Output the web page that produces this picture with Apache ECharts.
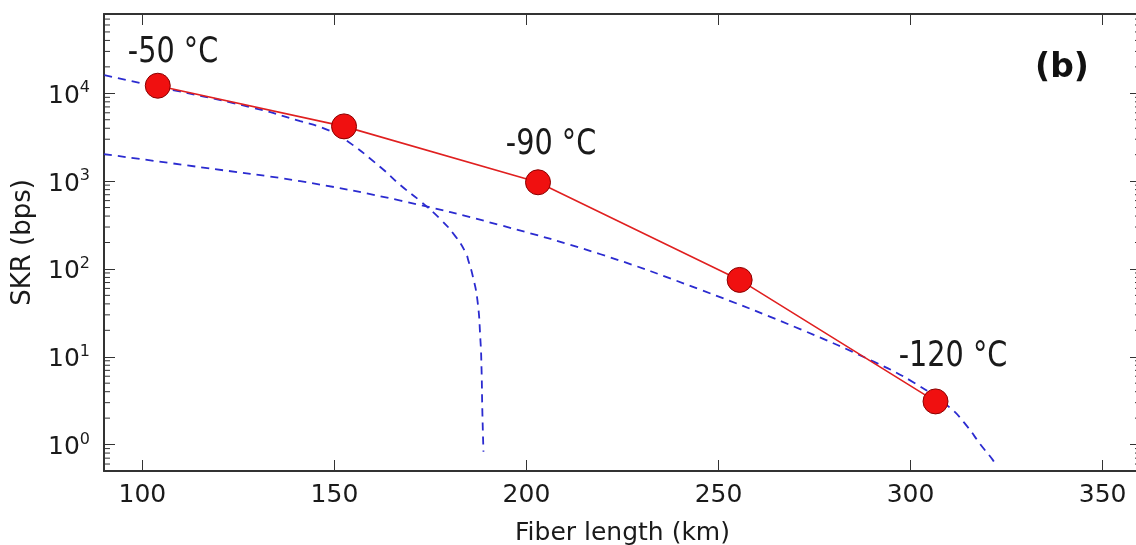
<!DOCTYPE html>
<html>
<head>
<meta charset="utf-8">
<title>SKR vs fiber length</title>
<script src="https://cdn.jsdelivr.net/npm/echarts@6/dist/echarts.min.js"></script>
<style>
  html, body { margin: 0; padding: 0; background: #fff; }
  #chart { width: 1136px; height: 545px; }
</style>
</head>
<body>
<div id="chart"></div>
<script>
// measured points (red), fiber length in km / SKR in bps
const pointLength = [104, 152.5, 203, 255.5, 306.5]
const pointSkr = [12200, 4200, 970, 75, 3.1]

// upper dashed curve (drops off near 189 km)
const upperLength = [90.1, 103.9, 128.1, 141.1, 147.7, 152.6, 162, 167.2, 172.4, 177.6, 181.5, 184.1, 185, 185.9, 187.2, 188, 188.3, 188.5, 188.8]
const upperSkr = [16100, 11900, 6960, 4820, 3910, 3010, 1440, 898, 590, 368, 235, 155, 119, 87, 45, 15.7, 7.2, 2.5, 0.83]

// lower dashed curve
const lowerLength = [90, 115.1, 141.1, 167.2, 193.2, 219.3, 245.3, 271.4, 290.4, 300.8, 310.4, 314.8, 318.2, 321.4, 322.1]
const lowerSkr = [2030, 1440, 998, 600, 315, 147, 58, 20.5, 8.8, 5.1, 2.6, 1.6, 1.0, 0.67, 0.59]

// temperature annotations
const tempLabels = ['-50 °C', '-90 °C', '-120 °C']

const xMin = 90
const xMax = 360
const yMin = 0.5
const yMax = 80000

const font = "'DejaVu Sans', sans-serif"
const ink = '#1a1a1a'

function pairs(xs, ys) {
  return xs.map((x, i) => [x, ys[i]])
}

// matplotlib style minor ticks 2..9 x 10^k
const minorTicks = []
for (let k = -1; k <= 4; k++) {
  for (let m = 2; m <= 9; m++) {
    const v = m * Math.pow(10, k)
    if (v > yMin && v < yMax) minorTicks.push([xMin, v])
  }
}

function powLabel(value) {
  const e = Math.log10(value)
  if (Math.abs(e - Math.round(e)) > 1e-6) return ''
  return '{b|10}{s|' + Math.round(e) + '}'
}

const chart = echarts.init(document.getElementById('chart'))

chart.setOption({
  animation: false,
  backgroundColor: '#fff',
  grid: {
    left: 104,
    width: 1037,
    top: 14,
    bottom: 74,
    containLabel: false,
    outerBoundsMode: 'none'
  },
  xAxis: [
    {
      type: 'value',
      min: xMin,
      max: xMax,
      name: 'Fiber length (km)',
      nameLocation: 'middle',
      nameGap: 50,
      nameTextStyle: { fontFamily: font, fontSize: 25, color: ink },
      axisLine: { lineStyle: { color: '#333', width: 2 } },
      axisTick: { inside: true, length: 11, lineStyle: { color: '#333', width: 1 } },
      axisLabel: {
        margin: 12,
        fontFamily: font,
        fontSize: 25,
        color: ink,
        formatter: function(v) {
          return v % 50 === 0 ? String(v) : ''
        }
      },
      splitLine: { show: false }
    },
    {
      type: 'value',
      position: 'top',
      min: xMin,
      max: xMax,
      axisLine: { lineStyle: { color: '#333', width: 2 } },
      axisTick: { inside: true, length: 11, lineStyle: { color: '#333', width: 1 } },
      axisLabel: { show: false },
      splitLine: { show: false }
    }
  ],
  yAxis: [
    {
      type: 'log',
      logBase: 10,
      min: yMin,
      max: yMax,
      name: 'SKR (bps)',
      nameLocation: 'middle',
      nameGap: 68,
      nameRotate: 90,
      nameTextStyle: { fontFamily: font, fontSize: 26, color: ink },
      axisLine: { lineStyle: { color: '#333', width: 2 } },
      axisTick: { inside: true, length: 11, lineStyle: { color: '#333', width: 1 } },
      axisLabel: {
        margin: 14,
        formatter: powLabel,
        rich: {
          b: { fontFamily: font, fontSize: 25, color: ink, padding: [6, 0, 0, 0] },
          s: { fontFamily: font, fontSize: 16, color: ink, padding: [0, 0, 10, 0] }
        }
      },
      splitLine: { show: false }
    },
    {
      type: 'log',
      logBase: 10,
      position: 'right',
      min: yMin,
      max: yMax,
      axisLine: { lineStyle: { color: '#333', width: 2 } },
      axisTick: { inside: true, length: 11, lineStyle: { color: '#333', width: 1 } },
      axisLabel: { show: false },
      splitLine: { show: false }
    }
  ],
  series: [
    {
      name: 'minor ticks',
      type: 'custom',
      silent: true,
      clip: false,
      data: minorTicks,
      renderItem: function(params, api) {
        const l = api.coord([xMin, api.value(1)])
        const r = api.coord([xMax, api.value(1)])
        const st = { stroke: '#333', lineWidth: 1 }
        return {
          type: 'group',
          children: [
            { type: 'line', shape: { x1: l[0], y1: l[1], x2: l[0] + 6, y2: l[1] }, style: st },
            { type: 'line', shape: { x1: r[0] - 6, y1: r[1], x2: r[0], y2: r[1] }, style: st }
          ]
        }
      }
    },
    {
      name: 'upper',
      type: 'line',
      data: pairs(upperLength, upperSkr),
      smooth: 0.5,
      symbol: 'none',
      lineStyle: { color: '#2b2bd0', width: 1.8, type: [8, 6] },
      z: 2
    },
    {
      name: 'lower',
      type: 'line',
      data: pairs(lowerLength, lowerSkr),
      smooth: 0.4,
      symbol: 'none',
      lineStyle: { color: '#2b2bd0', width: 1.8, type: [8, 6] },
      z: 2
    },
    {
      name: 'SKR',
      type: 'line',
      data: pairs(pointLength, pointSkr),
      symbol: 'circle',
      symbolSize: 25,
      itemStyle: { color: '#f01010', borderColor: '#8a0000', borderWidth: 1 },
      lineStyle: { color: '#e02020', width: 1.6 },
      z: 5
    }
  ],
  graphic: [
    {
      type: 'text', x: 173, y: 53, scaleX: 0.82,
      style: { text: tempLabels[0], fontFamily: font, fontSize: 35, fill: ink, align: 'center', verticalAlign: 'middle' }
    },
    {
      type: 'text', x: 551, y: 145, scaleX: 0.82,
      style: { text: tempLabels[1], fontFamily: font, fontSize: 35, fill: ink, align: 'center', verticalAlign: 'middle' }
    },
    {
      type: 'text', x: 953, y: 357, scaleX: 0.82,
      style: { text: tempLabels[2], fontFamily: font, fontSize: 35, fill: ink, align: 'center', verticalAlign: 'middle' }
    },
    {
      type: 'text', x: 1062, y: 68,
      style: { text: '(b)', fontFamily: font, fontSize: 33, fontWeight: 'bold', fill: '#111', align: 'center', verticalAlign: 'middle' }
    }
  ]
})
</script>
</body>
</html>
